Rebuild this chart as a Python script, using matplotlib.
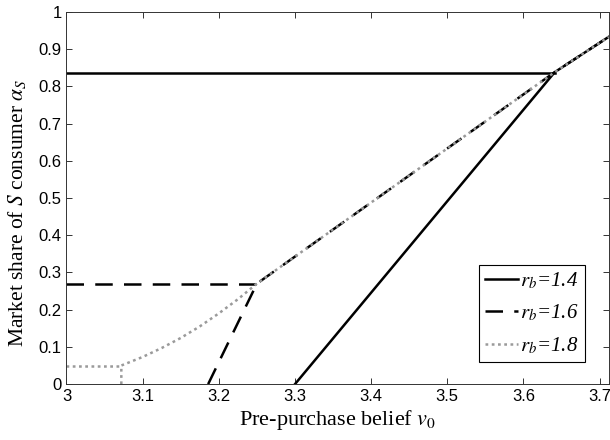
import matplotlib
matplotlib.use('Agg')
import matplotlib.pyplot as plt

plt.rcParams['mathtext.fontset'] = 'stix'

# r_b = 1.4 (two branches)
x14_flat = [3.0, 3.641]
y14_flat = [0.837, 0.837]
x14_rise = [3.30, 3.641, 3.712]
y14_rise = [0.0, 0.838, 0.933]

# r_b = 1.6
x16_flat = [3.0, 3.25]
y16_flat = [0.27, 0.27]
x16_rise = [3.186, 3.25, 3.641, 3.712]
y16_rise = [0.0, 0.27, 0.838, 0.933]

# r_b = 1.8
x18_flat = [3.0, 3.072]
y18_flat = [0.05, 0.05]
x18_rise = [3.072, 3.072, 3.10, 3.125, 3.15, 3.175, 3.20, 3.225, 3.25, 3.641, 3.712]
y18_rise = [0.0, 0.05, 0.073, 0.097, 0.124, 0.155, 0.19, 0.228, 0.27, 0.838, 0.933]

xticks = [3.0, 3.1, 3.2, 3.3, 3.4, 3.5, 3.6, 3.7]
xlabels = ['3', '3.1', '3.2', '3.3', '3.4', '3.5', '3.6', '3.7']
yticks = [i / 10 for i in range(11)]
ylabels = ['0'] + ['0.%d' % i for i in range(1, 10)] + ['1']

fig = plt.figure(figsize=(6.1, 4.4), dpi=100)
ax = fig.add_axes([0.109, 0.127, 0.889, 0.846])

gray = '#9a9a9a'
ax.plot(x14_flat, y14_flat, color='black', lw=1.8, label='$r_b$=1.4')
ax.plot(x14_rise, y14_rise, color='black', lw=1.8)
ax.plot(x16_flat, y16_flat, color='black', lw=1.8, ls=(0, (7, 4.5)), label='$r_b$=1.6')
ax.plot(x16_rise, y16_rise, color='black', lw=1.8, ls=(0, (7, 4.5)))
ax.plot(x18_flat, y18_flat, color=gray, lw=1.8, ls=(0, (1.1, 1.4)), label='$r_b$=1.8')
ax.plot(x18_rise, y18_rise, color=gray, lw=1.8, ls=(0, (1.1, 1.4)))

ax.set_xlim(3.0, 3.712)
ax.set_ylim(0, 1)
ax.set_xticks(xticks)
ax.set_xticklabels(xlabels, fontfamily='Liberation Sans', fontsize=12)
ax.set_yticks(yticks)
ax.set_yticklabels(ylabels, fontfamily='Liberation Sans', fontsize=12)
ax.tick_params(direction='in', top=True, right=True, length=4, width=0.7, color='#333333')
for s in ax.spines.values():
    s.set_linewidth(0.7)
    s.set_color('#333333')

ax.set_xlabel('Pre-purchase belief $v_0$', fontfamily='Liberation Serif', fontsize=16, labelpad=3)
ax.set_ylabel('Market share of $S$ consumer $\\alpha_S$', fontfamily='Liberation Serif', fontsize=15.5)
ax.yaxis.set_label_coords(-0.071, 0.46)

leg = ax.legend(loc='lower right', bbox_to_anchor=(0.956, 0.059),
                prop={'family': 'Liberation Serif', 'style': 'italic', 'size': 15},
                fancybox=False, edgecolor='black', framealpha=1,
                handlelength=1.6, handletextpad=0.1, borderpad=0.3, labelspacing=0.55,
                borderaxespad=0)
leg.get_frame().set_linewidth(0.8)

fig.savefig('out.png', dpi=100)
